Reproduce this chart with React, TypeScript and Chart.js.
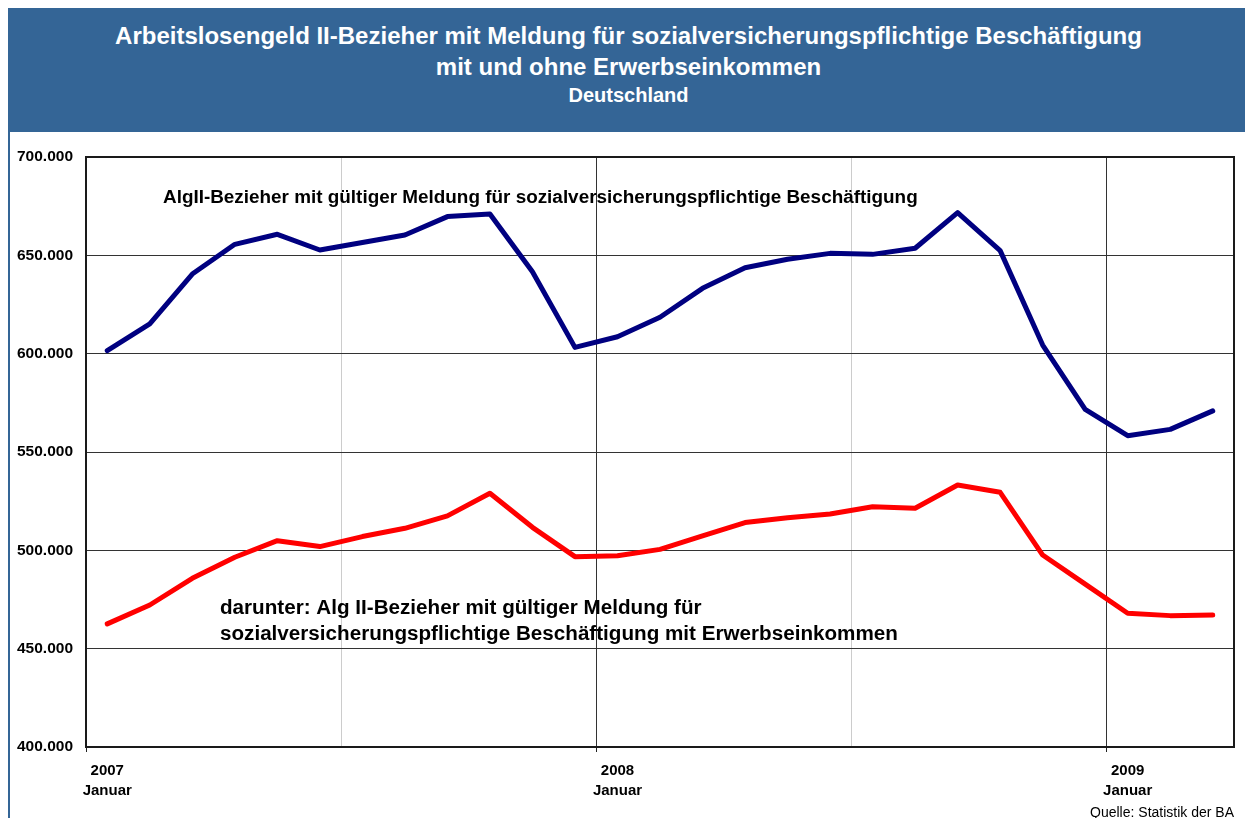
import React, { useEffect, useRef } from 'react';
import { Chart, registerables } from 'chart.js';

Chart.register(...registerables);

// ---------- data ----------
const months = [
  'Jan 2007', 'Feb 2007', 'Mär 2007', 'Apr 2007', 'Mai 2007', 'Jun 2007',
  'Jul 2007', 'Aug 2007', 'Sep 2007', 'Okt 2007', 'Nov 2007', 'Dez 2007',
  'Jan 2008', 'Feb 2008', 'Mär 2008', 'Apr 2008', 'Mai 2008', 'Jun 2008',
  'Jul 2008', 'Aug 2008', 'Sep 2008', 'Okt 2008', 'Nov 2008', 'Dez 2008',
  'Jan 2009', 'Feb 2009', 'Mär 2009',
];

const allWithMeldung = [
  601500, 615100, 640500, 655600, 660700, 652700, 656500, 660300, 669700, 671000, 641700, 603200,
  608600, 618500, 633200, 643700, 648000, 651000, 650500, 653600, 671700, 652400, 604400, 571700,
  558300, 561500, 570900,
];

const withEarnings = [
  462600, 472200, 485800, 496500, 504900, 501900, 507000, 511200, 517500, 529000, 511700, 496800,
  497200, 500500, 507300, 514100, 516600, 518500, 522200, 521400, 533200, 529500, 497600, 482800,
  468000, 466800, 467100,
];

const yMin = 400000;
const yMax = 700000;
const yStep = 50000;
const januaryLabel = 'Januar';

const titleLines = [
  'Arbeitslosengeld II-Bezieher mit Meldung für sozialversicherungspflichtige Beschäftigung',
  'mit und ohne Erwerbseinkommen',
];
const subtitle = 'Deutschland';
const sourceText = 'Quelle: Statistik der BA';
const labelAll = 'AlgII-Bezieher mit gültiger Meldung für sozialversicherungspflichtige Beschäftigung';
const labelEarnings = [
  'darunter: Alg II-Bezieher mit gültiger Meldung für',
  'sozialversicherungspflichtige Beschäftigung mit Erwerbseinkommen',
];

// ---------- styles ----------
const FONT = '"Liberation Sans", Arial, Helvetica, sans-serif';
const BANNER = '#346596';

const formatDE = (v: number) => String(Math.round(v)).replace(/\B(?=(\d{3})+(?!\d))/g, '.');

const framePlugin = {
  id: 'frameAndNotes',
  beforeDatasetsDraw(chart: any) {
    const { ctx, chartArea: a } = chart;
    ctx.save();
    ctx.strokeStyle = '#1a1a1a';
    ctx.lineWidth = 2;
    ctx.strokeRect(a.left, a.top, a.right - a.left, a.bottom - a.top);
    ctx.restore();
  },
  afterDatasetsDraw(chart: any) {
    const { ctx } = chart;
    ctx.save();
    ctx.fillStyle = '#000';
    ctx.textAlign = 'left';
    ctx.textBaseline = 'alphabetic';
    ctx.font = `bold 18.9px ${FONT}`;
    ctx.fillText(labelAll, 163, 203);
    ctx.font = `bold 20.65px ${FONT}`;
    ctx.fillText(labelEarnings[0], 220, 614);
    ctx.fillText(labelEarnings[1], 220, 640);
    ctx.restore();
  },
};

export default function App() {
  const canvasRef = useRef<HTMLCanvasElement | null>(null);

  useEffect(() => {
    if (!canvasRef.current) return;
    const isJan = (i: number) => typeof i === 'number' && months[i] && months[i].startsWith('Jan ');
    const chart = new Chart(canvasRef.current, {
      type: 'line',
      data: {
        labels: months,
        datasets: [
          {
            label: labelAll,
            data: allWithMeldung,
            borderColor: '#000080',
            backgroundColor: '#000080',
            borderWidth: 5,
            pointRadius: 0,
            tension: 0,
            borderCapStyle: 'round',
            borderJoinStyle: 'round',
          },
          {
            label: labelEarnings.join(' '),
            data: withEarnings,
            borderColor: '#ff0000',
            backgroundColor: '#ff0000',
            borderWidth: 5,
            pointRadius: 0,
            tension: 0,
            borderCapStyle: 'round',
            borderJoinStyle: 'round',
          },
        ],
      },
      options: {
        responsive: false,
        animation: false,
        devicePixelRatio: 1,
        layout: { padding: { top: 157, right: 11, left: 0, bottom: 0 } },
        plugins: {
          legend: { display: false },
          tooltip: { enabled: false },
          title: { display: false },
        },
        scales: {
          x: {
            type: 'category',
            offset: true,
            border: { display: false },
            grid: {
              offset: true,
              drawTicks: true,
              tickLength: 5,
              lineWidth: 1,
              color: (c: any) => {
                const i = c.index;
                if (i === 12 || i === 24) return '#333333';
                if (i === 6 || i === 18) return '#cccccc';
                return 'rgba(0,0,0,0)';
              },
              tickColor: (c: any) => {
                const i = c.index;
                if (i === 0 || i === 12 || i === 24) return '#222222';
                return 'rgba(0,0,0,0)';
              },
            },
            ticks: {
              autoSkip: false,
              maxRotation: 0,
              minRotation: 0,
              padding: 9,
              color: '#000',
              font: { family: FONT, size: 15, weight: 'bold', lineHeight: 1.333 },
              callback: (_v: any, i: number) => (isJan(i) ? [months[i].slice(4), januaryLabel] : ''),
            },
            afterFit: (s: any) => { s.height = 71; },
          },
          y: {
            min: yMin,
            max: yMax,
            border: { display: false },
            grid: { color: '#333333', lineWidth: 1, drawTicks: false },
            ticks: {
              stepSize: yStep,
              padding: 13,
              color: '#000',
              font: { family: FONT, size: 15.5, weight: 'bold' },
              callback: (v: any) => formatDE(Number(v)),
            },
            afterFit: (s: any) => { s.width = 86; },
          },
        },
      },
      plugins: [framePlugin],
    } as any);
    return () => chart.destroy();
  }, []);

  const line = (top: number, size: number, text: string) => (
    <div
      style={{
        position: 'absolute', left: 0, top, width: 1241, textAlign: 'center',
        fontFamily: FONT, fontWeight: 'bold', fontSize: size, lineHeight: `${size}px`,
        color: '#fff', whiteSpace: 'nowrap',
      }}
    >
      {text}
    </div>
  );

  return (
    <div style={{ position: 'absolute', left: 0, top: 0, width: 1245, height: 818, overflow: 'hidden', background: '#fff' }}>
      <canvas ref={canvasRef} width={1245} height={818} style={{ position: 'absolute', left: 0, top: 0, width: 1245, height: 818 }} />
      <div style={{ position: 'absolute', left: 8, top: 8, width: 1241, height: 124, background: BANNER }}>
        {line(16, 24, titleLines[0])}
        {line(47, 24, titleLines[1])}
        {line(77, 20, subtitle)}
      </div>
      <div style={{ position: 'absolute', left: 8, top: 132, width: 2, height: 686, background: BANNER }} />
      <div
        style={{
          position: 'absolute', right: 11, top: 805, fontFamily: FONT, fontSize: 14,
          lineHeight: '14px', color: '#000', whiteSpace: 'nowrap',
        }}
      >
        {sourceText}
      </div>
    </div>
  );
}
